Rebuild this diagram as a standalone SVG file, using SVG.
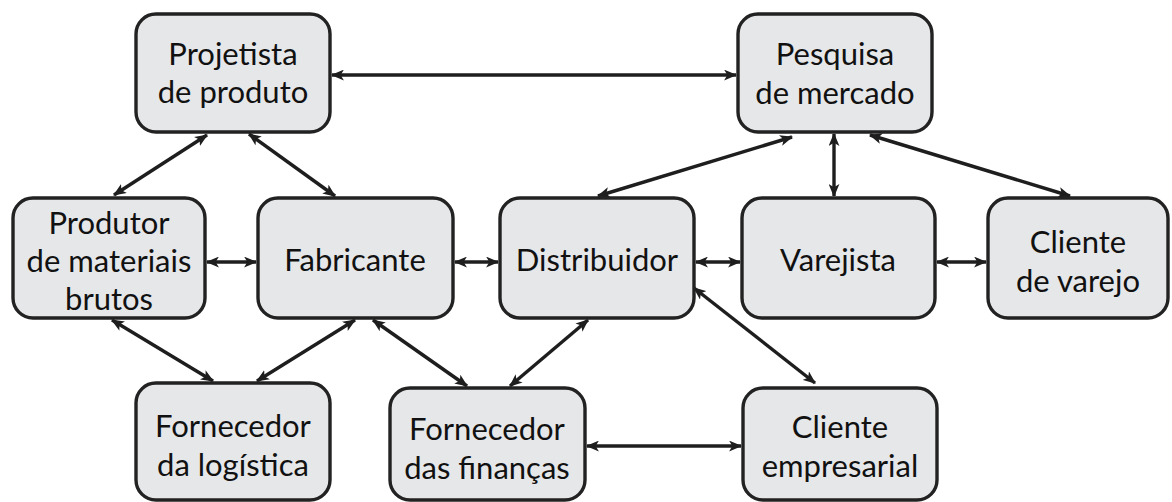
<svg xmlns="http://www.w3.org/2000/svg" width="1172" height="502" viewBox="0 0 1172 502">
<defs>
<marker id="ah" viewBox="0 0 12 10" refX="11" refY="5" markerWidth="13" markerHeight="11" markerUnits="userSpaceOnUse" orient="auto-start-reverse">
<path d="M0,0 L12,5 L0,10 L3,5 Z" fill="#1e1e1e"/>
</marker>
<style>
.box{fill:#e6e7e9;stroke:#222;stroke-width:3.4}
.t{font-family:Lato,"Open Sans","DejaVu Sans",sans-serif;font-size:31px;fill:#111;text-anchor:middle}
.c line{stroke:#1e1e1e;stroke-width:3.4;marker-start:url(#ah);marker-end:url(#ah)}
</style>
</defs>
<rect width="1172" height="502" fill="#fff"/>
<g class="c" id="connectors">
<line x1="332" y1="75" x2="736" y2="75"/>
<line x1="207" y1="135" x2="114" y2="195"/>
<line x1="249" y1="134" x2="335" y2="196"/>
<line x1="792" y1="137" x2="598" y2="196"/>
<line x1="834" y1="134" x2="834" y2="196"/>
<line x1="870" y1="135" x2="1070" y2="196"/>
<line x1="207" y1="262" x2="256" y2="262"/>
<line x1="455" y1="262" x2="498" y2="262"/>
<line x1="696" y1="262" x2="740" y2="262"/>
<line x1="937" y1="262" x2="986" y2="262"/>
<line x1="112" y1="320" x2="213" y2="381"/>
<line x1="355" y1="320" x2="257" y2="381"/>
<line x1="373" y1="320" x2="467" y2="386"/>
<line x1="588" y1="320" x2="510" y2="386"/>
<line x1="694" y1="288" x2="815" y2="383"/>
<line x1="587" y1="446" x2="741" y2="446"/>
</g>
<g id="projetista"><rect class="box" x="136" y="14" width="194" height="118" rx="20"/><text class="t" x="233" y="65">Projetista</text><text class="t" x="233" y="103">de produto</text></g>
<g id="pesquisa"><rect class="box" x="738" y="14" width="194" height="118" rx="20"/><text class="t" x="835" y="65">Pesquisa</text><text class="t" x="835" y="104">de mercado</text></g>
<g id="produtor"><rect class="box" x="13" y="198" width="192" height="120" rx="20"/><text class="t" x="109" y="234">Produtor</text><text class="t" x="109" y="272">de materiais</text><text class="t" x="109" y="310">brutos</text></g>
<g id="fabricante"><rect class="box" x="258" y="198" width="195" height="120" rx="20"/><text class="t" x="355" y="271">Fabricante</text></g>
<g id="distribuidor"><rect class="box" x="500" y="198" width="194" height="120" rx="20"/><text class="t" x="597" y="271">Distribuidor</text></g>
<g id="varejista"><rect class="box" x="742" y="198" width="193" height="120" rx="20"/><text class="t" x="838" y="271">Varejista</text></g>
<g id="cliente-varejo"><rect class="box" x="988" y="198" width="180" height="120" rx="20"/><text class="t" x="1078" y="253">Cliente</text><text class="t" x="1078" y="292">de varejo</text></g>
<g id="fornecedor-logistica"><rect class="box" x="136" y="383" width="194" height="117" rx="20"/><text class="t" x="233" y="437">Fornecedor</text><text class="t" x="233" y="476">da logística</text></g>
<g id="fornecedor-financas"><rect class="box" x="390" y="388" width="195" height="112" rx="20"/><text class="t" x="487" y="440">Fornecedor</text><text class="t" x="487" y="479">das finanças</text></g>
<g id="cliente-empresarial"><rect class="box" x="743" y="388" width="194" height="112" rx="20"/><text class="t" x="840" y="438">Cliente</text><text class="t" x="840" y="477">empresarial</text></g>
</svg>
